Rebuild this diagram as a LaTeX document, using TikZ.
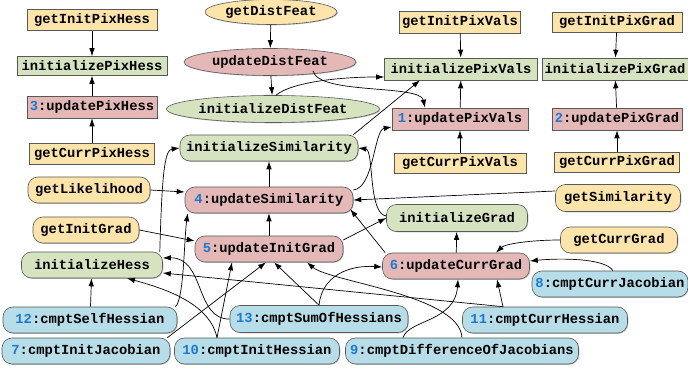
\documentclass[tikz,border=0pt]{standalone}
\usepackage{fontspec}
\setmonofont{Liberation Mono}
\usetikzlibrary{arrows.meta,shapes.geometric,shadows}
\definecolor{cy}{RGB}{252,228,170}
\definecolor{cg}{RGB}{214,227,192}
\definecolor{cr}{RGB}{229,184,184}
\definecolor{cb}{RGB}{183,221,232}
\definecolor{cn}{RGB}{30,120,205}
\newcommand{\nm}[1]{\textcolor{cn}{#1}}
\begin{document}
\begin{tikzpicture}[x=1pt,y=-1pt,
  base/.style={font=\ttfamily\bfseries\fontsize{13.8}{15}\selectfont, draw=black!65, line width=0.6pt, inner sep=0pt,
    drop shadow={shadow xshift=0.8pt,shadow yshift=-0.8pt,opacity=0.5}},
  rbox/.style={base, rectangle, minimum height=21pt},
  ell/.style={base, ellipse},
  rnd/.style={base, rectangle, rounded corners=10pt, minimum height=26pt},
  ye/.style={fill=cy}, gr/.style={fill=cg}, re/.style={fill=cr}, bl/.style={fill=cb},
  arr/.style={-{Latex[length=8pt,width=5.5pt]}, line width=0.7pt, black}]
\useasboundingbox (0,0) rectangle (688,371);
% pixel hess column
\node[rbox,ye,minimum width=130pt] (gIPH) at (92,20) {getInitPixHess};
\node[rbox,gr,minimum width=150pt,minimum height=19pt] (iPH) at (92,66) {initializePixHess};
\node[rbox,re,minimum width=130pt,minimum height=22pt] (uPH) at (92,107) {\nm{3}:updatePixHess};
\node[rbox,ye,minimum width=125pt] (gCPH) at (92,154) {getCurrPixHess};
% dist feat
\node[ell,ye,minimum width=132pt,minimum height=25pt] (gDF) at (271,12) {getDistFeat};
\node[ell,re,minimum width=172pt,minimum height=27pt] (uDF) at (270,62) {updateDistFeat};
\node[ell,gr,minimum width=213pt,minimum height=27pt] (iDF) at (273,109) {initializeDistFeat};
% pix vals
\node[rbox,ye,minimum width=121pt,minimum height=22pt] (gIPV) at (460,22) {getInitPixVals};
\node[rbox,gr,minimum width=153pt,minimum height=22pt] (iPV) at (461,69) {initializePixVals};
\node[rbox,re,minimum width=136pt,minimum height=22pt] (uPV) at (460,119) {\nm{1}:updatePixVals};
\node[rbox,ye,minimum width=132pt,minimum height=20pt] (gCPV) at (460,163) {getCurrPixVals};
% pix grad
\node[rbox,ye,minimum width=130pt,minimum height=20pt] (gIPG) at (617,22) {getInitPixGrad};
\node[rbox,gr,minimum width=146pt,minimum height=22pt] (iPG) at (615,69) {initializePixGrad};
\node[rbox,re,minimum width=130pt,minimum height=22pt] (uPG) at (617,119) {\nm{2}:updatePixGrad};
\node[rbox,ye,minimum width=125pt,minimum height=20pt] (gCPG) at (617,162) {getCurrPixGrad};
% rounded
\node[rnd,gr,minimum width=178pt] (iSim) at (269,148) {initializeSimilarity};
\node[rnd,ye,minimum width=122pt] (gLik) at (89,190) {getLikelihood};
\node[rnd,re,minimum width=168pt] (uSim) at (269,200) {\nm{4}:updateSimilarity};
\node[rnd,ye,minimum width=125pt,minimum height=27pt] (gSim) at (618,198) {getSimilarity};
\node[rnd,ye,minimum width=106pt] (gIG) at (86,230) {getInitGrad};
\node[rnd,gr,minimum width=141pt,minimum height=27pt] (iG) at (457,218) {initializeGrad};
\node[rnd,re,minimum width=148pt] (uIG) at (269,249) {\nm{5}:updateInitGrad};
\node[rnd,ye,minimum width=117pt] (gCG) at (619,240) {getCurrGrad};
\node[rnd,gr,minimum width=141pt] (iH) at (92,265) {initializeHess};
\node[rnd,re,minimum width=147pt] (uCG) at (456,266) {\nm{6}:updateCurrGrad};
\node[rnd,bl,minimum width=156pt] (cCJ) at (610,284) {\nm{8}:cmptCurrJacobian};
\node[rnd,bl,minimum width=174pt] (cSH) at (90,320) {\nm{12}:cmptSelfHessian};
\node[rnd,bl,minimum width=178pt,minimum height=27pt] (cSoH) at (319,319) {\nm{13}:cmptSumOfHessians};
\node[rnd,bl,minimum width=165pt] (cCH) at (545,320) {\nm{11}:cmptCurrHessian};
\node[rnd,bl,minimum width=168pt] (cIJ) at (86,351) {\nm{7}:cmptInitJacobian};
\node[rnd,bl,minimum width=165pt] (cIH) at (257,351) {\nm{10}:cmptInitHessian};
\node[rnd,bl,minimum width=233pt] (cDJ) at (462,351) {\nm{9}:cmptDifferenceOfJacobians};
% edges
\draw[arr] (gIPH) -- (iPH);
\draw[arr] (uPH) -- (iPH);
\draw[arr] (gCPH) -- (uPH);
\draw[arr] (gDF) -- (uDF);
\draw[arr] (uDF) -- (iDF);
\draw[arr] ([xshift=3pt]iDF.north) .. controls (292,82) and (340,77) .. ([yshift=-8pt]iPV.west);
\draw[arr] ([xshift=43pt,yshift=5pt]uDF.south) .. controls (318,95) and (420,84) .. ([xshift=-35pt]uPV.north);
\draw[arr] (gIPV) -- (iPV);
\draw[arr] (uPV) -- (iPV);
\draw[arr] (gCPV) -- (uPV);
\draw[arr] (gIPG) -- (iPG);
\draw[arr] (uPG) -- (iPG);
\draw[arr] (gCPG) -- (uPG);
\draw[arr] ([xshift=-5pt]iSim.north east) -- ([xshift=-41pt]iPV.south);
\draw[arr] ([yshift=10pt]uSim.east) .. controls (374,188) and (374,130) .. ([yshift=-8pt]uPV.west);
\draw[arr] (uSim) -- (iSim);
\draw[arr] (gLik.east) -- ([yshift=8pt]uSim.west);
\draw[arr] ([yshift=7pt]gSim.west) -- (uSim.east);
\draw[arr] ([yshift=2pt]iG.west) .. controls (368,214) and (374,150) .. (iSim.east);
\draw[arr] (uIG) -- (uSim);
\draw[arr] (gIG.east) -- ([yshift=8pt]uIG.west);
\draw[arr] ([yshift=9pt]uIG.east) -- (iG.west);
\draw[arr] (uCG) -- (iG);
\draw[arr] ([xshift=3pt]uCG.north west) -- ([xshift=-3pt,yshift=4pt]uSim.south east);
\draw[arr] (gCG.west) .. controls (530,240) and (505,244) .. ([xshift=40pt]uCG.north);
\draw[arr] ([xshift=3pt]cCJ.north) .. controls (605,258) and (560,258) .. ([yshift=5pt]uCG.east);
\draw[arr] ([xshift=-42pt]cCH.north) -- ([xshift=41pt]uCG.south);
\draw[arr] ([xshift=-59pt]cDJ.north) .. controls (408,320) and (455,322) .. ([xshift=2pt]uCG.south);
\draw[arr] ([xshift=-3pt]iH.north east) .. controls (162,170) and (165,150) .. (iSim.west);
\draw[arr] ([xshift=-2pt]cSH.north east) .. controls (184,300) and (184,240) .. ([xshift=3pt]uSim.south west);
\draw[arr] (cSH) -- (iH);
\draw[arr] (cSoH.west) .. controls (195,320) and (205,257) .. ([yshift=7pt]iH.east);
\draw[arr] ([xshift=-42pt]cCH.north) -- ([yshift=-8pt]iH.east);
\draw[arr] ([xshift=-40pt]cIH.north) .. controls (210,305) and (170,290) .. ([xshift=35pt]iH.south);
\draw[arr] ([xshift=-40pt]cIH.north) -- ([xshift=-37pt]uIG.south);
\draw[arr] ([xshift=-3pt]cIJ.north east) -- ([xshift=-3pt]uIG.south);
\draw[arr] (cSoH.north) -- ([xshift=5pt]uIG.south);
\draw[arr] (cDJ.north) .. controls (460,295) and (330,282) .. ([xshift=38pt]uIG.south);
\draw[arr] (cSoH.north) .. controls (322,275) and (350,265) .. ([yshift=-1pt]uCG.west);
\end{tikzpicture}
\end{document}
